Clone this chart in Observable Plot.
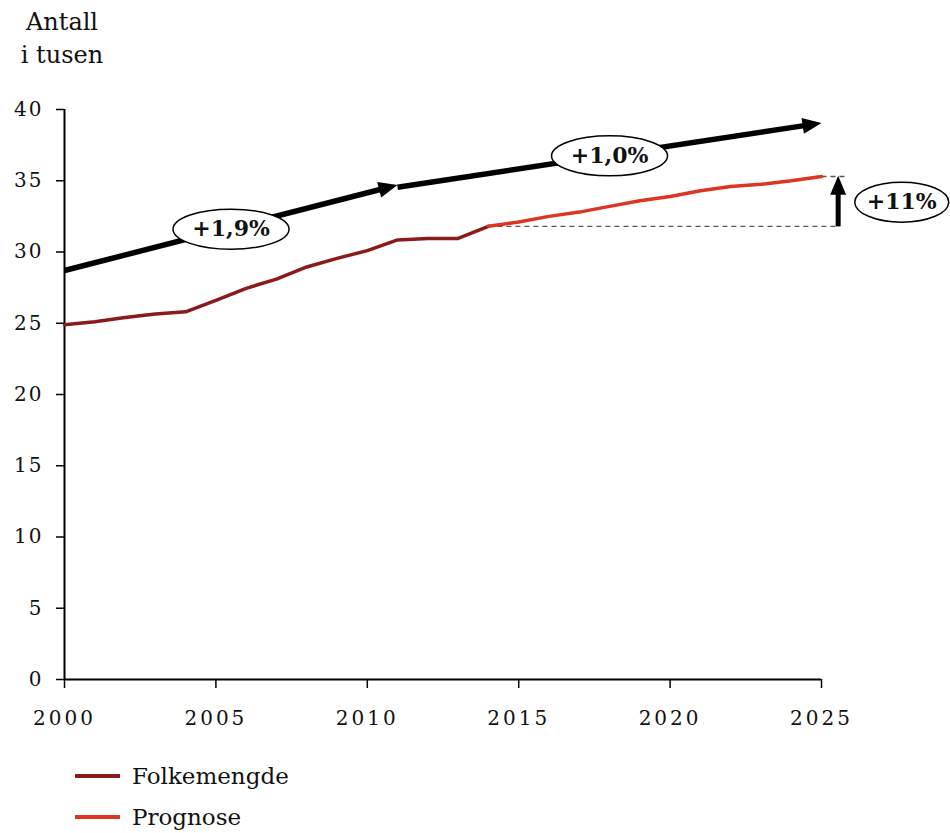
<!DOCTYPE html>
<html>
<head>
<meta charset="utf-8">
<script src="https://cdn.jsdelivr.net/npm/d3@7"></script>
<script src="https://cdn.jsdelivr.net/npm/@observablehq/plot@0.6"></script>
<style>
  body { margin: 0; background: #fff; font-family: "DejaVu Serif", serif; }
  #title { position: relative; height: 95px; }
  #title div { position: absolute; left: 0; width: 124px; text-align: center; font-size: 24px; color: #111; }
  #legend { position: relative; height: 88px; }
  .lg { position: absolute; left: 75px; display: flex; align-items: center; font-size: 23px; color: #111; }
  .sw { width: 45px; height: 4px; margin-right: 12px; }
  svg [aria-label="x-axis tick label"] text { letter-spacing: 3px; }
  svg [aria-label="y-axis tick label"] text { letter-spacing: 2px; }
</style>
</head>
<body>
<div id="title"><div style="top:8px">Antall</div><div style="top:41px">i tusen</div></div>
<div id="chart"></div>
<div id="legend"></div>
<script>
// ---- data ----
const histYears = [2000,2001,2002,2003,2004,2005,2006,2007,2008,2009,2010,2011,2012,2013,2014];
const histValues = [24.9,25.1,25.4,25.65,25.8,26.6,27.45,28.1,28.95,29.55,30.1,30.85,30.95,30.95,31.8];
const progYears = [2014,2015,2016,2017,2018,2019,2020,2021,2022,2023,2024,2025];
const progValues = [31.8,32.1,32.5,32.8,33.2,33.6,33.9,34.3,34.6,34.75,35.0,35.3];
const xTicks = [2000,2005,2010,2015,2020,2025];
const yTicks = [0,5,10,15,20,25,30,35,40];
const seriesNames = ["Folkemengde","Prognose"];
const seriesColors = ["#8b1a1c","#dc3523"];
// growth arrows: [x1, y1, x2, y2]
const growthArrows = [[2000, 28.7, 2011, 34.7], [2011, 34.55, 2025, 39.05]];
const growthLabels = ["+1,9%", "+1,0%", "+11%"];
const labelX = [2005.5, 2018.0, 2027.65];
const labelY = [31.6, 36.75, 33.5];
const labelW = [116, 116, 94];
const riseArrow = [2025.55, 31.8, 35.35];
const dashLow = [2014, 2025.6, 31.8];
const dashHigh = [2025, 2025.8, 35.3];

// ---- layout ----
const W = 950, H = 650, mL = 64, mR = 129, mT = 14, mB = 66;
const pxX = (W - mL - mR) / 25, pxY = (H - mT - mB) / 40;

const rows = [
  ...histYears.map((x, i) => ({x, y: histValues[i], s: seriesNames[0]})),
  ...progYears.map((x, i) => ({x, y: progValues[i], s: seriesNames[1]}))
];

function ellipseSymbol(rx, ry) {
  const k = 0.5522847;
  return {draw(c) {
    c.moveTo(rx, 0);
    c.bezierCurveTo(rx, k*ry, k*rx, ry, 0, ry);
    c.bezierCurveTo(-k*rx, ry, -rx, k*ry, -rx, 0);
    c.bezierCurveTo(-rx, -k*ry, -k*rx, -ry, 0, -ry);
    c.bezierCurveTo(k*rx, -ry, rx, -k*ry, rx, 0);
    c.closePath();
  }};
}
const headSymbol = {draw(c) { c.moveTo(0, 0); c.lineTo(-8, 19); c.lineTo(8, 19); c.closePath(); }};

const arrows = growthArrows.map(([x1, y1, x2, y2]) => ({
  x1, y1, x2, y2,
  rot: Math.atan2(-(y2 - y1) * pxY, (x2 - x1) * pxX) * 180 / Math.PI + 90
}));
const labels = growthLabels.map((t, i) => ({t, x: labelX[i], y: labelY[i], w: labelW[i]}));

const plot = Plot.plot({
  width: W, height: H,
  marginLeft: mL, marginRight: mR, marginTop: mT, marginBottom: mB,
  style: {fontFamily: "DejaVu Serif, serif", fontSize: "20px", color: "#111", background: "#fff", overflow: "visible"},
  x: {domain: [2000, 2025]},
  y: {domain: [0, 40]},
  color: {domain: seriesNames, range: seriesColors},
  marks: [
    Plot.axisY({ticks: yTicks, tickSize: 8, tickPadding: 13, tickFormat: d => String(d), label: null, stroke: "#000", strokeWidth: 1.5, fontSize: 20}),
    Plot.axisX({ticks: xTicks, tickSize: 9, tickPadding: 22, tickFormat: d => String(d), label: null, stroke: "#000", strokeWidth: 1.5, fontSize: 20}),
    Plot.ruleX([2000], {stroke: "#000", strokeWidth: 2}),
    Plot.ruleY([0], {stroke: "#000", strokeWidth: 2}),
    // dashed reference lines
    Plot.link([dashLow, dashHigh], {x1: d => d[0], x2: d => d[1], y1: d => d[2], y2: d => d[2], stroke: "#555", strokeWidth: 1.3, strokeDasharray: "5,4", clip: false}),
    // series
    Plot.line(rows, {x: "x", y: "y", z: "s", stroke: "s", strokeWidth: 3.5}),
    // growth arrows
    Plot.arrow(arrows, {x1: "x1", y1: "y1", x2: "x2", y2: "y2", headLength: 0, insetEnd: 14, stroke: "#000", strokeWidth: 5.5, strokeLinecap: "butt"}),
    Plot.dot(arrows, {x: "x2", y: "y2", symbol: headSymbol, rotate: "rot", fill: "#000", stroke: null, r: 8}),
    // rise arrow
    Plot.arrow([riseArrow], {x1: d => d[0], x2: d => d[0], y1: d => d[1], y2: d => d[2], headLength: 0, insetEnd: 14, stroke: "#000", strokeWidth: 5, strokeLinecap: "butt", clip: false}),
    Plot.dot([riseArrow], {x: d => d[0], y: d => d[2], symbol: headSymbol, fill: "#000", stroke: null, r: 8, clip: false}),
    // labels
    ...labels.map(l => Plot.dot([l], {x: "x", y: "y", symbol: ellipseSymbol(l.w / 2, 20), fill: "#fff", stroke: "#000", strokeWidth: 1.5, r: 10, clip: false})),
    Plot.text(labels, {x: "x", y: "y", text: "t", fontWeight: "bold", fontSize: 22, fontFamily: "DejaVu Serif, serif", fill: "#111", clip: false})
  ]
});
document.getElementById("chart").append(plot);

const legend = document.getElementById("legend");
seriesNames.forEach((n, i) => {
  const d = document.createElement("div");
  d.className = "lg";
  d.style.top = (18 + i * 41) + "px";
  d.innerHTML = `<span class="sw" style="background:${seriesColors[i]}"></span><span>${n}</span>`;
  legend.append(d);
});
</script>
</body>
</html>
